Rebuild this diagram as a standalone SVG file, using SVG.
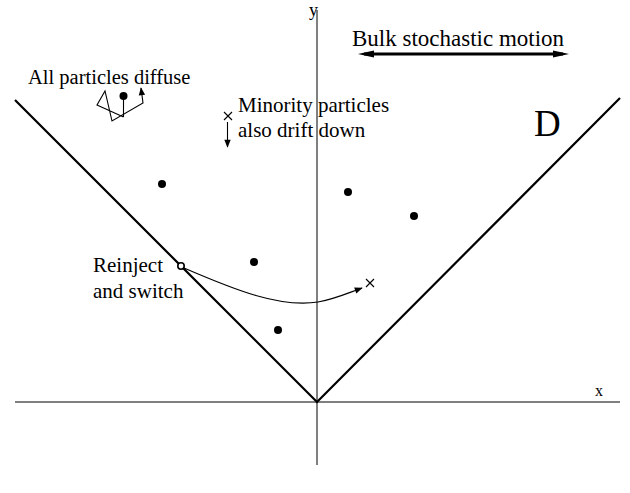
<svg xmlns="http://www.w3.org/2000/svg" width="630" height="493" viewBox="0 0 630 493">
<style>
text{font-family:"Liberation Serif","Times New Roman",serif;fill:#000}
.ax{stroke:#000;stroke-width:1;fill:none}
.v{stroke:#000;stroke-width:2.2;fill:none}
.thin{stroke:#000;stroke-width:1.1;fill:none}
.dot{fill:#000}
</style>
<defs>
<marker id="ah" viewBox="0 0 10 10" refX="9" refY="5" markerWidth="10" markerHeight="8" markerUnits="userSpaceOnUse" orient="auto">
<path d="M0,1 L10,5 L0,9 Z" fill="#000"/>
</marker>
<marker id="ah2" viewBox="0 0 16 8" refX="10" refY="4" markerWidth="16" markerHeight="8" markerUnits="userSpaceOnUse" orient="auto-start-reverse">
<path d="M0,0.5 L16,4 L0,7.5 Z" fill="#000"/>
</marker>
</defs>
<g id="axes">
<line class="ax" x1="317" y1="10" x2="317" y2="465"/>
<line class="ax" x1="15" y1="402" x2="620" y2="402"/>
<text x="309" y="16" style="font-size:18px">y</text>
<text x="595" y="396" style="font-size:16px">x</text>
</g>
<g id="domain">
<path class="v" d="M15,100 L317,402 L620,98"/>
<text x="534" y="136" style="font-size:37px">D</text>
</g>
<g id="bulk">
<text x="352" y="46" style="font-size:23px">Bulk stochastic motion</text>
<line x1="364" y1="54" x2="563" y2="54" stroke="#000" stroke-width="3" marker-start="url(#ah2)" marker-end="url(#ah2)"/>
</g>
<g id="diffuse">
<text x="28" y="84" style="font-size:20.5px">All particles diffuse</text>
<circle class="dot" cx="123.5" cy="96" r="4"/>
<line class="thin" x1="123.5" y1="96" x2="123.5" y2="117"/>
<polyline class="thin" points="123.5,117 97,105 105,91 112,121 143,103 141,88" marker-end="url(#ah)"/>
</g>
<g id="minority">
<path class="thin" d="M224,112 L232,120 M232,112 L224,120" stroke-width="1.8"/>
<line class="thin" x1="227.5" y1="122" x2="227.5" y2="147" marker-end="url(#ah)"/>
<text x="238" y="112" style="font-size:21px">Minority particles</text>
<text x="238" y="137" style="font-size:21px">also drift down</text>
</g>
<g id="particles">
<circle class="dot" cx="162" cy="184" r="4"/>
<circle class="dot" cx="348" cy="192" r="4"/>
<circle class="dot" cx="414" cy="216" r="4"/>
<circle class="dot" cx="254" cy="262" r="4"/>
<circle class="dot" cx="278" cy="330" r="4"/>
</g>
<g id="reinject">
<text x="93" y="272" style="font-size:21px">Reinject</text>
<text x="93" y="298" style="font-size:21px">and switch</text>
<circle cx="181" cy="266" r="3.2" fill="#fff" stroke="#000" stroke-width="1.6"/>
</g>
<g id="connectors">
<path class="thin" d="M184,268 C235,290 280,308 318,302 C335,299 348,293 362,288" marker-end="url(#ah)"/>
</g>
<g id="target">
<path class="thin" d="M366,279 L374,287 M374,279 L366,287" stroke-width="1.8"/>
</g>
</svg>
